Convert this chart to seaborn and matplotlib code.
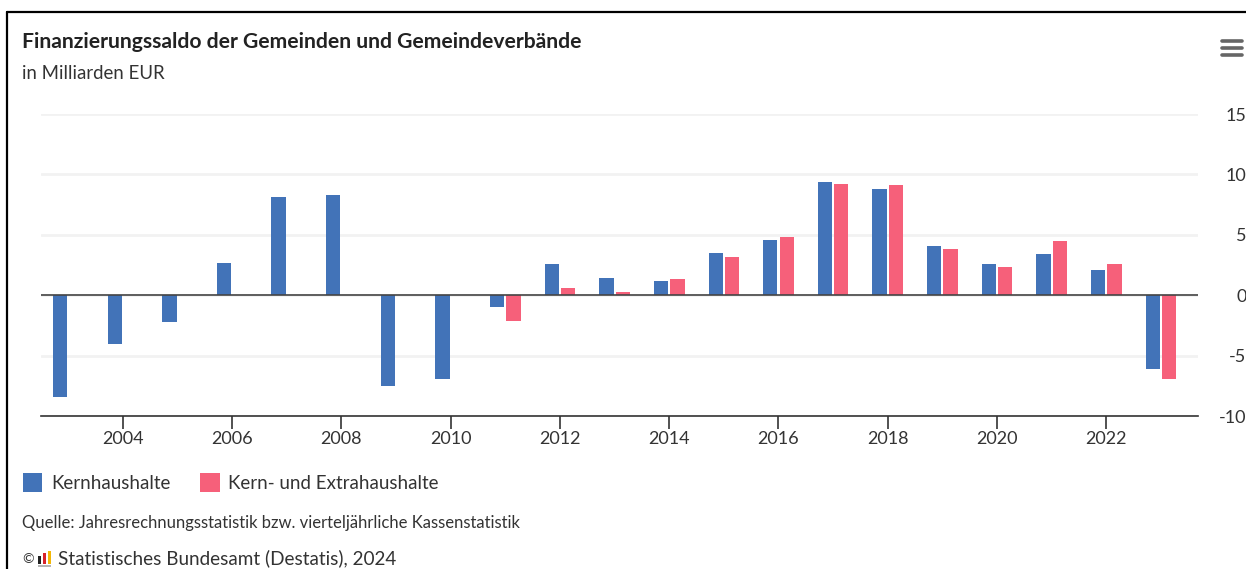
import matplotlib
matplotlib.use("Agg")
import matplotlib.pyplot as plt
import pandas as pd
import seaborn as sns
from matplotlib.lines import Line2D
from matplotlib.patches import Rectangle

years = list(range(2003, 2024))
kern = [-8.45, -4.0, -2.25, 2.65, 8.1, 8.3, -7.5, -6.95, -1.0, 2.55, 1.4,
        1.2, 3.5, 4.6, 9.35, 8.8, 4.05, 2.55, 3.4, 2.1, -6.15]
kern_extra = [None, None, None, None, None, None, None, None, -2.15, 0.6, 0.3,
              1.3, 3.15, 4.85, 9.2, 9.1, 3.85, 2.35, 4.5, 2.55, -6.9]
y_ticks = [-10, -5, 0, 5, 10, 15]
series_names = ["Kernhaushalte", "Kern- und Extrahaushalte"]
series_colors = ["#4273B8", "#F6607A"]

W, H = 1246, 569
TEXT = "#333333"

sns.set_theme(style="white")
plt.rcParams["font.family"] = ["Lato", "DejaVu Sans"]
plt.rcParams["axes.unicode_minus"] = False

df = pd.DataFrame({"year": years, series_names[0]: kern, series_names[1]: kern_extra})
df = df.melt(id_vars="year", var_name="series", value_name="saldo")

fig = plt.figure(figsize=(W / 100, H / 100), dpi=100, facecolor="white")
ax = fig.add_axes([41 / W, 1 - 416 / H, (1198 - 41) / W, (416 - 114) / H])

sns.barplot(data=df, x="year", y="saldo", hue="series", hue_order=series_names,
            palette=series_colors, width=0.6, gap=0.13, saturation=1, linewidth=0,
            legend=True, ax=ax, zorder=3)

# x axis
ax.set_xlim(-0.5, 20.68)
ax.set_xticks([i for i, y in enumerate(years) if y % 2 == 0])
ax.set_xticklabels([str(y) for y in years if y % 2 == 0])
ax.tick_params(axis="x", bottom=True, length=9, width=1.2, color="#333333",
               labelsize=13, labelcolor=TEXT, pad=2)
ax.set_xlabel("")

# y axis, numbers right aligned at the image edge
ax.set_ylim(-10, 15)
ax.set_yticks(y_ticks)
ax.yaxis.tick_right()
ax.tick_params(axis="y", right=False, labelsize=13, labelcolor=TEXT, pad=29)
for tick in ax.yaxis.get_major_ticks():
    tick.label2.set_ha("right")
ax.set_ylabel("")
ax.grid(axis="y", color="#f2f2f2", linewidth=2)
ax.set_axisbelow(True)
ax.axhline(0, color="#444444", linewidth=1.2, zorder=4)

for side in ["top", "left", "right"]:
    ax.spines[side].set_visible(False)
ax.spines["bottom"].set_color("#333333")
ax.spines["bottom"].set_linewidth(1.2)

# legend under the plot
handles, labels = ax.get_legend_handles_labels()
ax.legend_.remove()
fig.legend(handles, labels, loc="upper left", bbox_to_anchor=(6 / W, 1 - 456 / H),
           frameon=False, ncol=2, fontsize=13.5, labelcolor=TEXT,
           handlelength=1.02, handleheight=1.2, handletextpad=0.48, columnspacing=1.6)

# texts
fig.text(22 / W, 1 - 42 / H, "Finanzierungssaldo der Gemeinden und Gemeindeverbände",
         fontsize=15.2, fontweight="bold", color="#222222", va="center")
fig.text(22 / W, 1 - 74 / H, "in Milliarden EUR", fontsize=13.4, color=TEXT, va="center")
fig.text(22 / W, 1 - 523 / H, "Quelle: Jahresrechnungsstatistik bzw. vierteljährliche Kassenstatistik",
         fontsize=12, color=TEXT, va="center")
fig.text(22 / W, 1 - 559 / H, "©", fontsize=10, color=TEXT, va="center")
fig.text(58 / W, 1 - 558 / H, "Statistisches Bundesamt (Destatis), 2024", fontsize=13.6,
         color=TEXT, va="center")

# small Destatis logo
for x0, top, col in [(38, 556, "#222222"), (43, 553, "#d8232a"), (48, 551, "#f2b705")]:
    fig.add_artist(Rectangle((x0 / W, 1 - 564 / H), 3 / W, (564 - top) / H,
                             transform=fig.transFigure, color=col, lw=0))
fig.add_artist(Rectangle((38 / W, 1 - 567 / H), 13 / W, 2 / H,
                         transform=fig.transFigure, color="#b5b5b5", lw=0))

# menu icon
for y in [41, 48, 55]:
    fig.add_artist(Line2D([1222 / W, 1242 / W], [1 - y / H, 1 - y / H], color="#666666",
                          linewidth=2.6, solid_capstyle="round"))

# screenshot frame
fig.add_artist(Line2D([7 / W, 7 / W], [0, 1 - 12 / H], color="black", linewidth=1.6))
fig.add_artist(Line2D([7 / W, 1], [1 - 12 / H, 1 - 12 / H], color="black", linewidth=1.6))

fig.savefig("out.png", dpi=100)
